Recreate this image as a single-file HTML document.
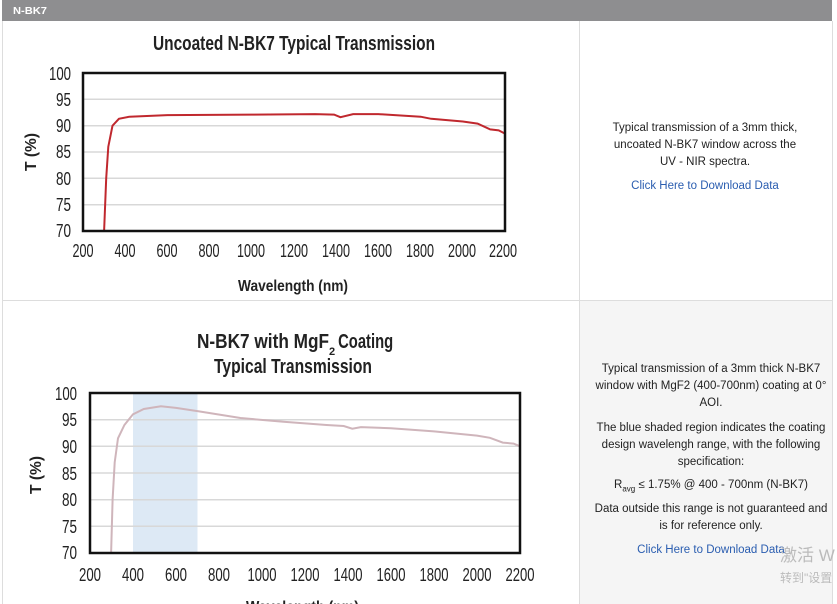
<!DOCTYPE html>
<html><head><meta charset="utf-8"><style>
body{margin:0;width:837px;height:604px;overflow:hidden;background:#fff;font-family:"Liberation Sans",sans-serif}
.t{position:absolute;color:#222;text-align:center;font-size:11.5px;line-height:17px}
</style></head><body>
<svg width="837" height="604" style="position:absolute;left:0;top:0" font-family="'Liberation Sans',sans-serif">
<rect x="0" y="0" width="837" height="604" fill="#fff"/>
<rect x="2" y="0" width="830" height="21" fill="#8e8e90"/>
<text x="13" y="14" font-size="10" font-weight="bold" fill="#fff" textLength="34" lengthAdjust="spacingAndGlyphs">N-BK7</text>
<rect x="579" y="300" width="253" height="304" fill="#f5f5f5"/>
<line x1="2.5" y1="21" x2="2.5" y2="604" stroke="#ddd"/>
<line x1="579.5" y1="21" x2="579.5" y2="604" stroke="#ddd"/>
<line x1="832.5" y1="21" x2="832.5" y2="604" stroke="#ddd"/>
<line x1="2" y1="300.5" x2="832" y2="300.5" stroke="#ddd"/>

<!-- chart 1 -->
<text x="153" y="50" font-size="20" font-weight="bold" fill="#222" textLength="282" lengthAdjust="spacingAndGlyphs">Uncoated N-BK7 Typical Transmission</text>
<g stroke="#d8d8d8" stroke-width="1.5">
<line x1="83" y1="99.3" x2="505" y2="99.3"/><line x1="83" y1="125.7" x2="505" y2="125.7"/><line x1="83" y1="152" x2="505" y2="152"/><line x1="83" y1="178.3" x2="505" y2="178.3"/><line x1="83" y1="204.7" x2="505" y2="204.7"/>
</g>
<polyline fill="none" stroke="#c0282e" stroke-width="2" points="104.1,231 106.2,178.3 108.3,146.7 112.5,125.7 118.9,118.8 129.4,116.7 167.4,115.1 251.8,114.6 315.1,114.1 334.1,114.6 340.4,117.2 353.1,114.1 378.4,114.1 420.6,116.7 431.2,118.8 462.8,121.5 477.6,123.6 490.2,129.4 498.7,130.4 505,133.6"/>
<rect x="83" y="73" width="422" height="158" fill="none" stroke="#111" stroke-width="2.5"/>
<g font-size="18" fill="#222" text-anchor="end">
<text x="71" y="80" textLength="22" lengthAdjust="spacingAndGlyphs">100</text><text x="71" y="106" textLength="15" lengthAdjust="spacingAndGlyphs">95</text><text x="71" y="132" textLength="15" lengthAdjust="spacingAndGlyphs">90</text><text x="71" y="158" textLength="15" lengthAdjust="spacingAndGlyphs">85</text><text x="71" y="185" textLength="15" lengthAdjust="spacingAndGlyphs">80</text><text x="71" y="211" textLength="15" lengthAdjust="spacingAndGlyphs">75</text><text x="71" y="237" textLength="15" lengthAdjust="spacingAndGlyphs">70</text>
</g>
<g font-size="18" fill="#222" text-anchor="middle">
<text x="83" y="257" textLength="21" lengthAdjust="spacingAndGlyphs">200</text><text x="125" y="257" textLength="21" lengthAdjust="spacingAndGlyphs">400</text><text x="167" y="257" textLength="21" lengthAdjust="spacingAndGlyphs">600</text><text x="209" y="257" textLength="21" lengthAdjust="spacingAndGlyphs">800</text><text x="251" y="257" textLength="28" lengthAdjust="spacingAndGlyphs">1000</text><text x="294" y="257" textLength="28" lengthAdjust="spacingAndGlyphs">1200</text><text x="336" y="257" textLength="28" lengthAdjust="spacingAndGlyphs">1400</text><text x="378" y="257" textLength="28" lengthAdjust="spacingAndGlyphs">1600</text><text x="420" y="257" textLength="28" lengthAdjust="spacingAndGlyphs">1800</text><text x="462" y="257" textLength="28" lengthAdjust="spacingAndGlyphs">2000</text><text x="503" y="257" textLength="28" lengthAdjust="spacingAndGlyphs">2200</text>
</g>
<text x="238" y="291" font-size="16" font-weight="bold" fill="#222" textLength="110" lengthAdjust="spacingAndGlyphs">Wavelength (nm)</text>
<text x="0" y="0" font-size="16" font-weight="bold" text-anchor="middle" fill="#222" transform="translate(36 152) rotate(-90)" textLength="38" lengthAdjust="spacingAndGlyphs">T (%)</text>

<!-- chart 2 -->
<text x="197" y="348" font-size="20" font-weight="bold" fill="#222"><tspan textLength="132" lengthAdjust="spacingAndGlyphs">N-BK7 with MgF</tspan><tspan font-size="11" dy="7">2</tspan><tspan dy="-7" dx="3" textLength="55" lengthAdjust="spacingAndGlyphs">Coating</tspan></text>
<text x="214" y="373" font-size="20" font-weight="bold" fill="#222" textLength="158" lengthAdjust="spacingAndGlyphs">Typical Transmission</text>
<rect x="133" y="393" width="64.5" height="160" fill="#dde9f5"/>
<g stroke="#d8d8d8" stroke-width="1.5">
<line x1="90" y1="419.7" x2="520" y2="419.7"/><line x1="90" y1="446.3" x2="520" y2="446.3"/><line x1="90" y1="473" x2="520" y2="473"/><line x1="90" y1="499.7" x2="520" y2="499.7"/><line x1="90" y1="526.3" x2="520" y2="526.3"/>
</g>
<polyline fill="none" stroke="#cfb5bb" stroke-width="2" points="111.1,553 112.6,499.6 114.7,462.3 118,438.3 124.4,425 133,414.3 143.8,409 160.9,406.3 176,407.9 197.5,411.1 240.5,418 283.5,421.8 326.5,425 343.7,426 352.3,428.7 360.9,427.1 391,428.2 434,431.4 477,435.6 489.9,437.8 502.8,442.6 513.6,443.6 520,446.3"/>
<rect x="90" y="393" width="430" height="160" fill="none" stroke="#111" stroke-width="2.5"/>
<g font-size="18" fill="#222" text-anchor="end">
<text x="77" y="400" textLength="22" lengthAdjust="spacingAndGlyphs">100</text><text x="77" y="426" textLength="15" lengthAdjust="spacingAndGlyphs">95</text><text x="77" y="453" textLength="15" lengthAdjust="spacingAndGlyphs">90</text><text x="77" y="480" textLength="15" lengthAdjust="spacingAndGlyphs">85</text><text x="77" y="506" textLength="15" lengthAdjust="spacingAndGlyphs">80</text><text x="77" y="533" textLength="15" lengthAdjust="spacingAndGlyphs">75</text><text x="77" y="559" textLength="15" lengthAdjust="spacingAndGlyphs">70</text>
</g>
<g font-size="18" fill="#222" text-anchor="middle">
<text x="90" y="581" textLength="22" lengthAdjust="spacingAndGlyphs">200</text><text x="133" y="581" textLength="22" lengthAdjust="spacingAndGlyphs">400</text><text x="176" y="581" textLength="22" lengthAdjust="spacingAndGlyphs">600</text><text x="219" y="581" textLength="22" lengthAdjust="spacingAndGlyphs">800</text><text x="262" y="581" textLength="29" lengthAdjust="spacingAndGlyphs">1000</text><text x="305" y="581" textLength="29" lengthAdjust="spacingAndGlyphs">1200</text><text x="348" y="581" textLength="29" lengthAdjust="spacingAndGlyphs">1400</text><text x="391" y="581" textLength="29" lengthAdjust="spacingAndGlyphs">1600</text><text x="434" y="581" textLength="29" lengthAdjust="spacingAndGlyphs">1800</text><text x="477" y="581" textLength="29" lengthAdjust="spacingAndGlyphs">2000</text><text x="520" y="581" textLength="29" lengthAdjust="spacingAndGlyphs">2200</text>
</g>
<text x="246" y="612" font-size="16" font-weight="bold" fill="#222" textLength="113" lengthAdjust="spacingAndGlyphs">Wavelength (nm)</text>
<text x="0" y="0" font-size="16" font-weight="bold" text-anchor="middle" fill="#222" transform="translate(41 475) rotate(-90)" textLength="38" lengthAdjust="spacingAndGlyphs">T (%)</text>
</svg>

<div class="t" style="left:605px;top:120px;width:200px">Typical transmission of a 3mm thick, uncoated N-BK7 window across the UV - NIR spectra.</div>
<div class="t" style="left:590px;top:178px;width:230px;color:#2a5db0">Click Here to Download Data</div>

<div class="t" style="left:591px;top:361px;width:240px">Typical transmission of a 3mm thick N-BK7 window with MgF2 (400-700nm) coating at 0° AOI.</div>
<div class="t" style="left:593px;top:420px;width:236px">The blue shaded region indicates the coating design wavelengh range, with the following specification:</div>
<div class="t" style="left:593px;top:477px;width:236px">R<sub style="font-size:8px">avg</sub> ≤ 1.75% @ 400 - 700nm (N-BK7)</div>
<div class="t" style="left:593px;top:501px;width:236px">Data outside this range is not guaranteed and is for reference only.</div>
<div class="t" style="left:593px;top:542px;width:236px;color:#2a5db0">Click Here to Download Data</div>
<div style="position:absolute;left:780px;top:541px;font-size:17px;color:#bbb;font-family:'Liberation Sans','Noto Sans CJK SC',sans-serif;white-space:nowrap">激活 W</div>
<div style="position:absolute;left:780px;top:569px;font-size:12px;color:#bbb;font-family:'Liberation Sans','Noto Sans CJK SC',sans-serif;white-space:nowrap">转到"设置</div>
</body></html>
